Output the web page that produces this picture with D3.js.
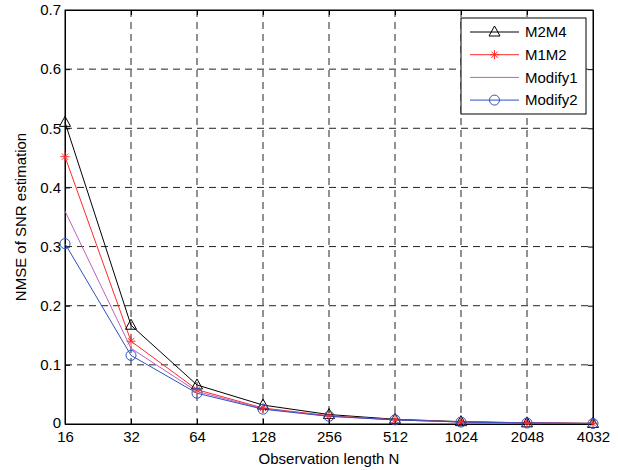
<!DOCTYPE html>
<html><head><meta charset="utf-8">
<script src="https://cdn.jsdelivr.net/npm/d3@7"></script>
<style>body{margin:0;background:#fff}svg{display:block}text{font-family:"Liberation Sans",Arial,sans-serif}</style>
</head><body><svg id="c" width="618" height="470"></svg>
<script>
const categories = ["16","32","64","128","256","512","1024","2048","4032"];
const yTicks = [0,0.1,0.2,0.3,0.4,0.5,0.6,0.7];
const seriesNames = ["M2M4","M1M2","Modify1","Modify2"];
const m2m4 = [0.510,0.167,0.066,0.032,0.016,0.008,0.004,0.002,0.001];
const m1m2 = [0.452,0.140,0.058,0.027,0.014,0.007,0.0035,0.0018,0.001];
const modify1 = [0.360,0.128,0.055,0.026,0.013,0.007,0.0034,0.0017,0.0009];
const modify2 = [0.305,0.116,0.052,0.025,0.013,0.007,0.0033,0.0017,0.0009];

const series = [
  {name:seriesNames[0], values:m2m4, color:"#000000", marker:"triangle"},
  {name:seriesNames[1], values:m1m2, color:"#ff2a2a", marker:"star"},
  {name:seriesNames[2], values:modify1, color:"#bf60bf", marker:"none"},
  {name:seriesNames[3], values:modify2, color:"#3050c0", marker:"circle"}
];

const svg = d3.select("#c");
const L=65, R=593, T=10, B=424;
const x = d3.scalePoint().domain(categories).range([L,R]);
const y = d3.scaleLinear().domain([0,0.7]).range([B,T]);

// grid
const g = svg.append("g");
g.selectAll(".vg").data(categories.slice(1,-1)).enter().append("line")
  .attr("x1",d=>x(d)).attr("x2",d=>x(d)).attr("y1",T).attr("y2",B)
  .attr("stroke","#222").attr("stroke-width",1).attr("stroke-dasharray","7,5");
g.selectAll(".hg").data(yTicks.slice(1,-1)).enter().append("line")
  .attr("y1",d=>y(d)).attr("y2",d=>y(d)).attr("x1",L).attr("x2",R)
  .attr("stroke","#222").attr("stroke-width",1).attr("stroke-dasharray","7,5");

// axes
const xAxis = d3.axisBottom(x).tickSizeInner(-5).tickSizeOuter(0).tickPadding(7);
const yAxis = d3.axisLeft(y).tickValues(yTicks).tickFormat(d=>d===0?"0":d3.format(".1f")(d)).tickSizeInner(-5).tickSizeOuter(0).tickPadding(4);
const xa = svg.append("g").attr("transform",`translate(0,${B})`).call(xAxis);
const ya = svg.append("g").attr("transform",`translate(${L},0)`).call(yAxis);
const xt = svg.append("g").attr("transform",`translate(0,${T})`).call(d3.axisTop(x).tickSizeInner(-5).tickSizeOuter(0).tickFormat(""));
const yr = svg.append("g").attr("transform",`translate(${R},0)`).call(d3.axisRight(y).tickValues(yTicks).tickSizeInner(-5).tickSizeOuter(0).tickFormat(""));
[xa,ya,xt,yr].forEach(a=>{a.selectAll("path").attr("stroke","#000");a.selectAll("line").attr("stroke","#000");a.selectAll("text").attr("fill","#000").style("font-size","15px").style("font-family","Liberation Sans, Arial, sans-serif");});
ya.selectAll(".tick text").filter(d=>d===0).attr("dy","0.25em");
svg.append("rect").attr("x",L).attr("y",T).attr("width",R-L).attr("height",B-T).attr("fill","none").attr("stroke","#000").attr("stroke-width",1);

// lines
const line = d3.line().x((d,i)=>x(categories[i])).y(d=>y(d));
function drawMarker(sel, type, color, cx, cy){
  if(type==="triangle"){
    sel.append("path").attr("d",`M${cx},${cy-6}L${cx+5.5},${cy+4}L${cx-5.5},${cy+4}Z`).attr("fill","none").attr("stroke",color).attr("stroke-width",1);
  } else if(type==="circle"){
    sel.append("circle").attr("cx",cx).attr("cy",cy).attr("r",5).attr("fill","none").attr("stroke",color).attr("stroke-width",1);
  } else if(type==="star"){
    const r=4.5;
    for(const a of [0,45,90,135]){
      const rad=a*Math.PI/180;
      sel.append("line").attr("x1",cx-r*Math.cos(rad)).attr("y1",cy-r*Math.sin(rad)).attr("x2",cx+r*Math.cos(rad)).attr("y2",cy+r*Math.sin(rad)).attr("stroke",color).attr("stroke-width",1);
    }
  }
}
series.forEach(s=>{
  svg.append("path").datum(s.values).attr("d",line).attr("fill","none").attr("stroke",s.color).attr("stroke-width",1);
});
series.forEach(s=>{
  const mg = svg.append("g");
  s.values.forEach((v,i)=>drawMarker(mg,s.marker,s.color,x(categories[i]),y(v)));
});

// legend
const lg = svg.append("g");
lg.append("rect").attr("x",461).attr("y",18).attr("width",125).attr("height",96).attr("fill","#fff").attr("stroke","#000");
series.forEach((s,i)=>{
  const yy = 32 + i*22.7;
  lg.append("line").attr("x1",470).attr("x2",519).attr("y1",yy).attr("y2",yy).attr("stroke",s.color);
  drawMarker(lg,s.marker,s.color,494.5,yy);
  lg.append("text").attr("x",525).attr("y",yy).attr("dy","0.35em").style("font-size","15px").text(s.name);
});

// labels
svg.append("text").attr("x",(L+R)/2).attr("y",464).attr("text-anchor","middle").style("font-size","15px").text("Observation length N");
svg.append("text").attr("transform",`translate(26,${(T+B)/2}) rotate(-90)`).attr("text-anchor","middle").style("font-size","15px").text("NMSE of SNR estimation");
</script></body></html>
